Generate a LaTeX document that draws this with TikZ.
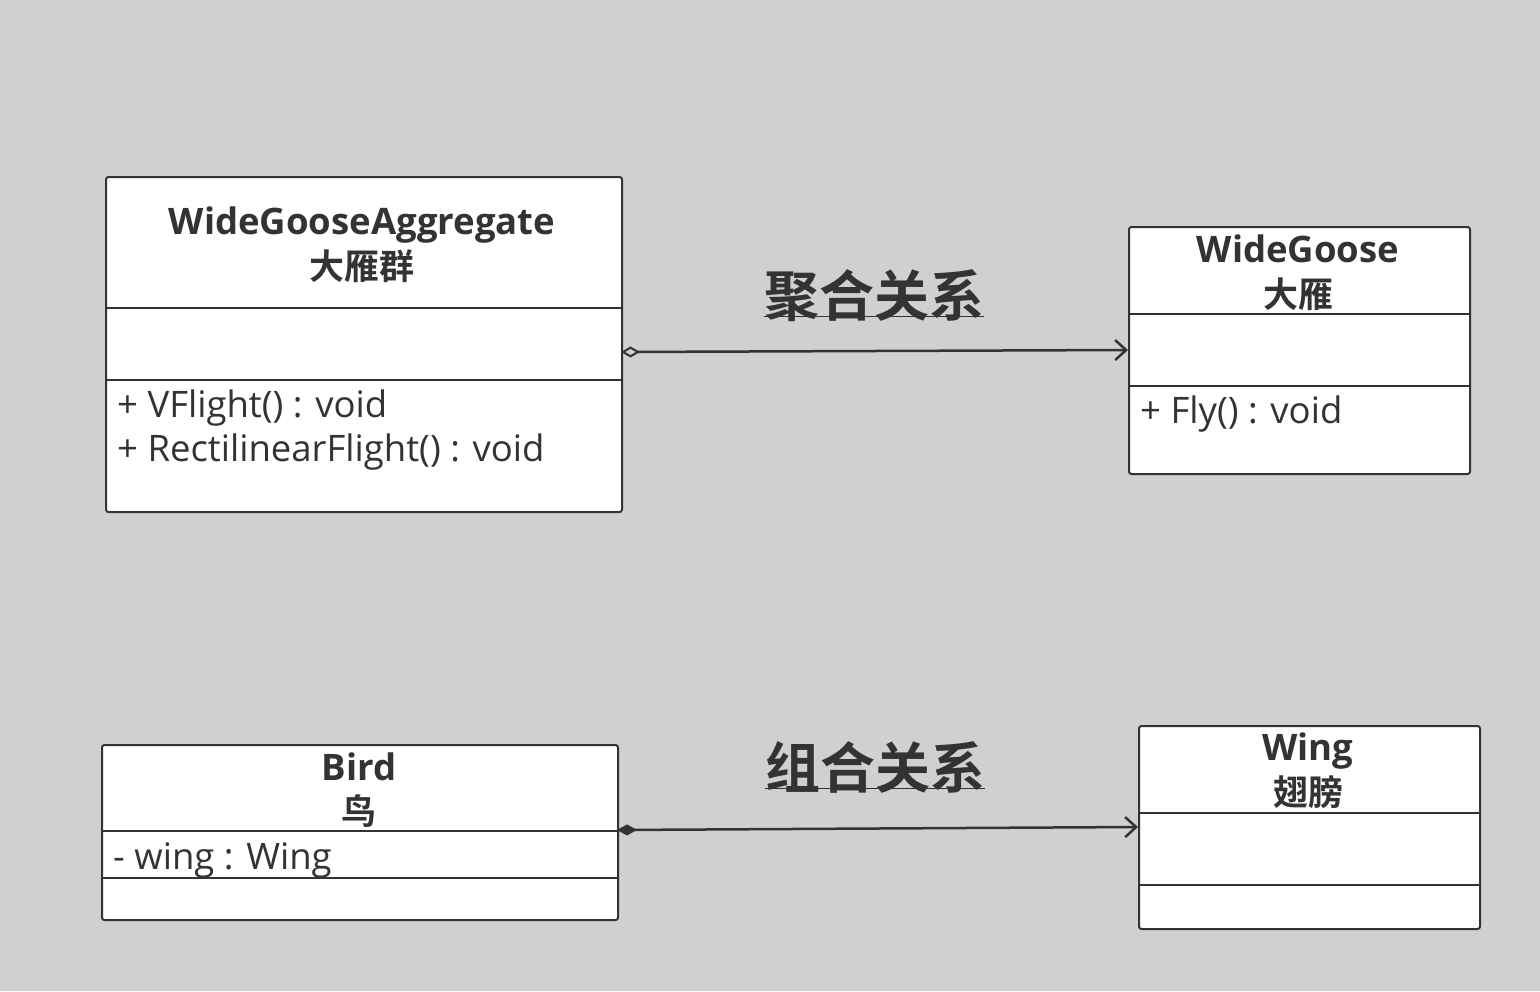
\documentclass[tikz,border=0pt]{standalone}
\usepackage{fontspec}
\setmainfont{Open Sans}
\newfontfamily\cjk{Noto Sans CJK SC}[BoldFont={Noto Sans CJK SC Bold}]
\usetikzlibrary{arrows.meta}
\definecolor{bg}{HTML}{D0D0D0}
\definecolor{ink}{HTML}{333333}
\begin{document}
\begin{tikzpicture}[x=1pt,y=-1pt,
  box/.style={draw=ink, fill=white, line width=2pt, rounded corners=2.5pt, inner sep=0pt, anchor=north west},
  divider/.style={draw=ink, line width=2pt},
  ttl/.style={anchor=base, inner sep=0pt, text=ink, font=\fontsize{36.5}{40}\selectfont\bfseries},
  cjkttl/.style={anchor=base, inner sep=0pt, text=ink, font=\fontsize{35}{40}\selectfont\cjk\bfseries},
  member/.style={anchor=base west, inner sep=0pt, text=ink, font=\fontsize{36.5}{40}\selectfont},
  rel/.style={anchor=base, inner sep=0pt, text=ink, font=\fontsize{55}{60}\selectfont\cjk\bfseries},
  conn/.style={draw=ink, line width=2.5pt},
  agg/.style={conn, {Diamond[open, length=19pt, width=11pt, line width=2pt]}-{Straight Barb[length=11pt, width=20pt, line width=2.5pt]}},
  comp/.style={conn, {Diamond[length=20pt, width=11pt]}-{Straight Barb[length=11pt, width=20pt, line width=2.5pt]}}
]
\fill[bg] (0,0) rectangle (1540,991);
\useasboundingbox (0,0) rectangle (1540,991);

% WideGooseAggregate
\node[box, minimum width=516pt, minimum height=335pt] (A) at (105,176) {};
\draw[divider] (105,308) -- (621,308);
\draw[divider] (105,380) -- (621,380);
\node[ttl] (At) at (362,234) {WideGooseAggregate};
\node[cjkttl] (Ac) at (362,279) {大雁群};
\node[member] (Am1) at (117,417) {+ VFlight() : void};
\node[member] (Am2) at (117,461) {+ RectilinearFlight() : void};

% WideGoose
\node[box, minimum width=341pt, minimum height=247pt] (B) at (1128,226) {};
\draw[divider] (1128,314) -- (1469,314);
\draw[divider] (1128,386) -- (1469,386);
\node[ttl] (Bt) at (1298,262) {WideGoose};
\node[cjkttl] (Bc) at (1298,307) {大雁};
\node[member] (Bm1) at (1140,423) {+ Fly() : void};

% Bird
\node[box, minimum width=516pt, minimum height=175pt] (C) at (101,744) {};
\draw[divider] (101,831) -- (617,831);
\draw[divider] (101,878) -- (617,878);
\node[ttl] (Ct) at (359,780) {Bird};
\node[cjkttl] (Cc) at (359,824) {鸟};
\node[member] (Cm1) at (113,869) {- wing : Wing};

% Wing
\node[box, minimum width=341pt, minimum height=203pt] (D) at (1138,725) {};
\draw[divider] (1138,813) -- (1479,813);
\draw[divider] (1138,885) -- (1479,885);
\node[ttl] (Dt) at (1308,760) {Wing};
\node[cjkttl] (Dc) at (1308,805) {翅膀};

% connectors
\coordinate (a1) at (621,352);
\coordinate (b1) at (1128,350);
\draw[agg] (a1) -- (b1);
\coordinate (c1) at (617,830);
\coordinate (d1) at (1138,827);
\draw[comp] (c1) -- (d1);

% relation labels
\node[rel] (L1) at (874,316) {聚合关系};
\draw[ink, line width=1pt] (L1.base west) -- (L1.base east);
\node[rel] (L2) at (875,788) {组合关系};
\draw[ink, line width=1pt] (L2.base west) -- (L2.base east);
\end{tikzpicture}
\end{document}
